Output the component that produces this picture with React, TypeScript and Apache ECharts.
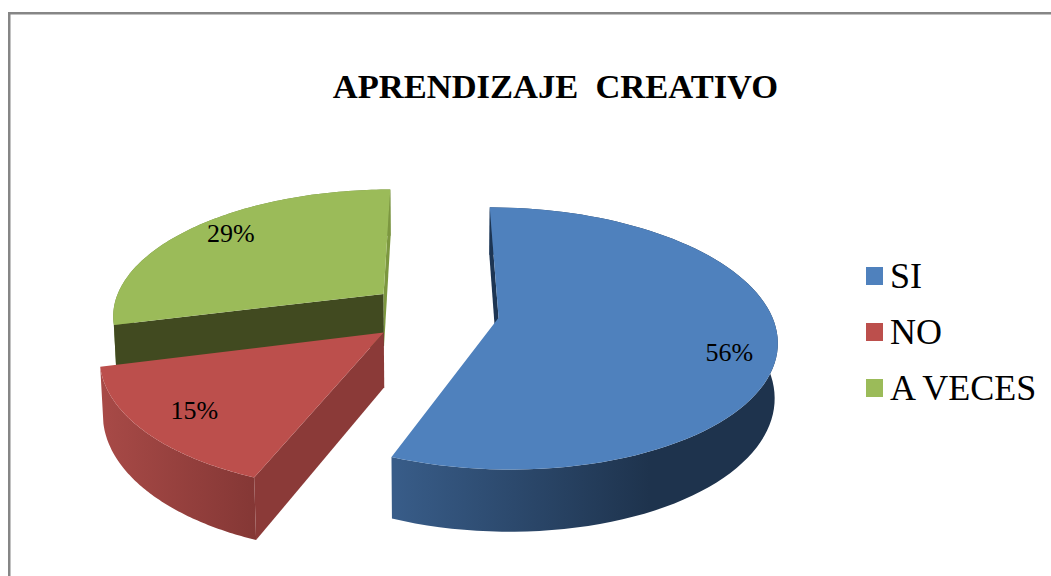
import React, { useEffect, useRef } from "react";
import * as echarts from "echarts";

const titleText = "APRENDIZAJE  CREATIVO";
const categories = ["SI", "NO", "A VECES"];
const shares = [56, 15, 29];
const topColors = ["#4f81bd", "#bc4f4c", "#9bbb59"];
const labelNudgeDeg = [7.5, -0.3, 2.7];
const labelRadius = [0.84, 0.81, 0.84];

const SERIF = '"Liberation Serif", "Times New Roman", serif';
const RAD = Math.PI / 180;
const CX = 434, CY = 312, A = 272, B = 126, PERSP = 0.157, DEPTH = 54, DEPTH_PERSP = 0.009;
const EXPLODE = 0.24;

const project = (X: number, Y: number, z: number): number[] => {
  const den = 1 + PERSP * Y + DEPTH_PERSP * z;
  return [CX + (A * X) / den, CY + (-B * Y + DEPTH * z) / den];
};

const lin = (x0: number, x1: number, c0: string, c1: string) =>
  new echarts.graphic.LinearGradient(x0, 0, x1, 0, [
    { offset: 0, color: c0 },
    { offset: 1, color: c1 },
  ], true);

// [outer wall, wall of the start edge, wall of the end edge]
const wallFills: any[] = [
  [lin(396, 650, "#385c88", "#1e334d"), "#1d3553", "#1d3553"],
  [lin(100, 257, "#a84a47", "#843735"), "#8b3a38", "#8b3a38"],
  [lin(113, 388, "#6f8740", "#6f8740"), "#414a20", "#7c973f"],
];

const signedArea = (pts: number[][]) => {
  let s = 0;
  pts.forEach((p, i) => {
    const q = pts[(i + 1) % pts.length];
    s += p[0] * q[1] - q[0] * p[1];
  });
  return s;
};

function sliceRenderer(index: number) {
  const before = shares.slice(0, index).reduce((a, b) => a + b, 0);
  const total = shares.reduce((a, b) => a + b, 0);
  return (_params: any, api: any) => {
    const share = api.value(0);
    const from = (before / total) * 360;
    const to = ((before + share) / total) * 360;
    const mid = (from + to) / 2;
    const ox = EXPLODE * Math.sin(mid * RAD);
    const oy = EXPLODE * Math.cos(mid * RAD);
    const at = (deg: number, r: number, z: number) =>
      project(ox + r * Math.sin(deg * RAD), oy + r * Math.cos(deg * RAD), z);

    const steps = 90;
    const arc = (z: number) => {
      const pts: number[][] = [];
      for (let i = 0; i <= steps; i++) pts.push(at(from + ((to - from) * i) / steps, 1, z));
      return pts;
    };
    const top = arc(0);
    const bottom = arc(1);
    const [outer, startWall, endWall] = wallFills[index];
    const poly = (points: number[][], fill: any) => ({
      type: "polygon",
      shape: { points },
      style: { fill, stroke: null },
      silent: true,
    });
    const startQuad = [at(from, 0, 0), at(from, 1, 0), at(from, 1, 1), at(from, 0, 1)];
    const endQuad = [at(to, 0, 0), at(to, 1, 0), at(to, 1, 1), at(to, 0, 1)];
    const lp = at(mid + labelNudgeDeg[index], labelRadius[index], 0);
    const children: any[] = [poly([...top, ...bottom.slice().reverse()], outer)];
    // only the radial walls that face the viewer are painted
    if (signedArea(startQuad) < 0) children.push(poly(startQuad, startWall));
    if (signedArea(endQuad) > 0) children.push(poly(endQuad, endWall));
    children.push(poly([at(0, 0, 0), ...top], topColors[index]));
    children.push({
      type: "text",
      x: lp[0],
      y: lp[1],
      silent: true,
      style: {
        text: share + "%",
        fill: "#000000",
        fontFamily: SERIF,
        fontSize: 26,
        align: "center",
        verticalAlign: "middle",
      },
    });
    return { type: "group", children };
  };
}

export default function App() {
  const ref = useRef<HTMLDivElement>(null);
  useEffect(() => {
    const chart = echarts.init(ref.current!, null, { renderer: "svg" });
    // back-to-front painting: green, red, blue
    const order = [2, 1, 0];
    chart.setOption({
      animation: false,
      backgroundColor: "#ffffff",
      title: {
        text: titleText,
        left: 550.5,
        top: 63,
        textAlign: "center",
        textStyle: { fontFamily: SERIF, fontWeight: "bold", fontSize: 34.5, color: "#000000" },
      },
      legend: {
        orient: "vertical",
        left: 861,
        top: 253,
        itemWidth: 17,
        itemHeight: 18,
        itemGap: 20,
        selectedMode: false,
        data: categories.map((name) => ({ name, icon: "rect" })),
        textStyle: { fontFamily: SERIF, fontSize: 36, lineHeight: 34, color: "#000000", padding: [0, 0, 0, 2] },
      },
      graphic: [
        {
          type: "rect",
          silent: true,
          z: -1,
          shape: { x: 9.25, y: 13.25, width: 1200, height: 800 },
          style: { fill: "none", stroke: "#868686", lineWidth: 2.5 },
        },
      ],
      series: order.map((i) => ({
        type: "custom",
        name: categories[i],
        coordinateSystem: "none",
        clip: false,
        silent: true,
        itemStyle: { color: topColors[i] },
        renderItem: sliceRenderer(i),
        data: [[shares[i]]],
      })),
    });
    return () => chart.dispose();
  }, []);
  return <div ref={ref} style={{ position: "absolute", left: 0, top: 0, width: 1051, height: 576 }} />;
}
